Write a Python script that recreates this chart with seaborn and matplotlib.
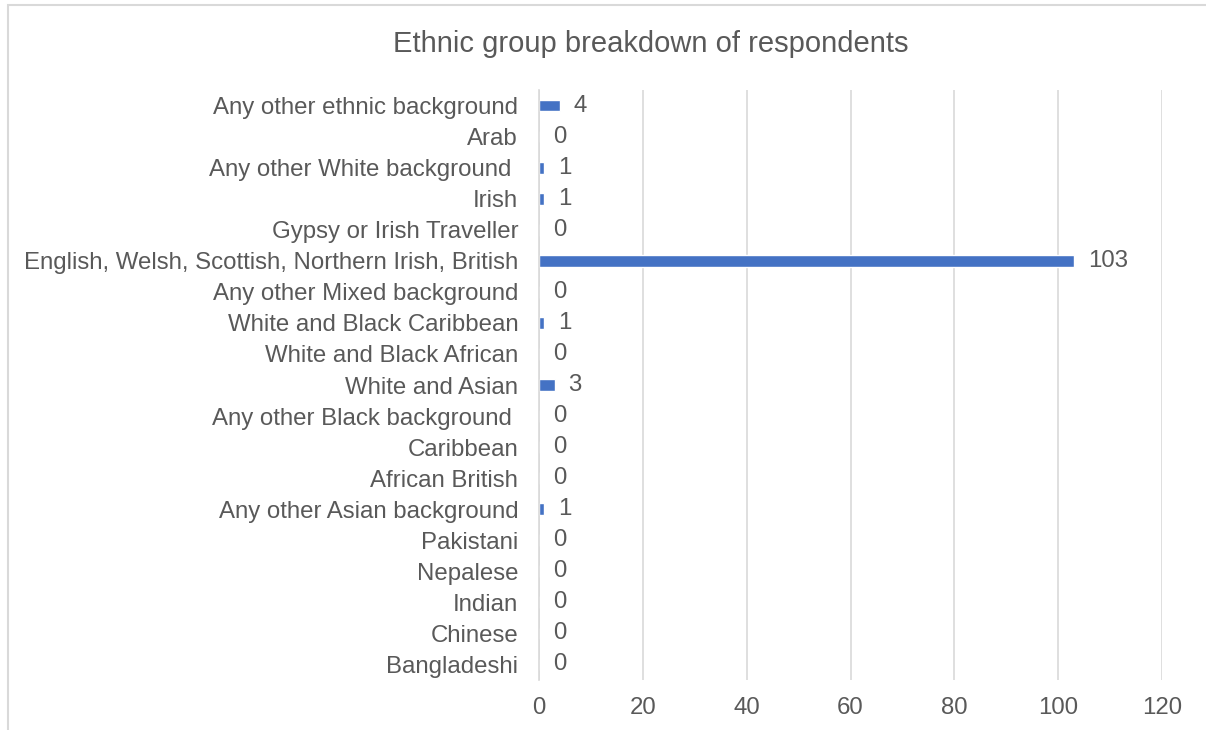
import numpy as np
import pandas as pd
import matplotlib
matplotlib.use('Agg')
import matplotlib.pyplot as plt
import seaborn as sns
from matplotlib.patches import Rectangle

groups = ['Any other ethnic background', 'Arab', 'Any other White background ', 'Irish',
          'Gypsy or Irish Traveller', 'English, Welsh, Scottish, Northern Irish, British',
          'Any other Mixed background', 'White and Black Caribbean', 'White and Black African',
          'White and Asian', 'Any other Black background ', 'Caribbean', 'African British',
          'Any other Asian background', 'Pakistani', 'Nepalese', 'Indian', 'Chinese', 'Bangladeshi']
counts = [4, 0, 1, 1, 0, 103, 0, 1, 0, 3, 0, 0, 0, 1, 0, 0, 0, 0, 0]
xticks = [0, 20, 40, 60, 80, 100, 120]

df = pd.DataFrame({'Group': groups, 'Count': counts})

sns.set_style('white')
plt.rcParams['font.family'] = ['Liberation Sans', 'DejaVu Sans']
grey = '#595959'

fig = plt.figure(figsize=(12.06, 7.3), dpi=100)
ax = fig.add_axes([539 / 1206, 1 - 680 / 730, (1162 - 539) / 1206, (680 - 90) / 730])

sns.barplot(data=df, x='Count', y='Group', orient='h', color='#4472C4',
            width=0.38, saturation=1, ax=ax)
ax.bar_label(ax.containers[0], padding=10, fontsize=17.3, color=grey)

ax.set_xlim(0, 120)
ax.set_xticks(xticks)
ax.set_ylim(len(groups) - 0.5, -0.5)
ax.xaxis.grid(True, color='#D9D9D9', linewidth=1.2)
ax.set_axisbelow(True)
for s in ['top', 'right', 'bottom']:
    ax.spines[s].set_visible(False)
ax.spines['left'].set_color('#D9D9D9')
ax.spines['left'].set_linewidth(1.2)
ax.tick_params(axis='both', length=0, labelsize=17.3, labelcolor=grey)
ax.tick_params(axis='x', pad=12)
ax.tick_params(axis='y', pad=15)
ax.set_xlabel('')
ax.set_ylabel('')

fig.text(651 / 1206, 1 - 44 / 730, 'Ethnic group breakdown of respondents', ha='center', va='center',
         fontsize=21, color=grey)

fig.patches.append(Rectangle((8 / 1206, -0.05), 1.1, 1 - 5 / 730 + 0.05, transform=fig.transFigure,
                             fill=False, edgecolor='#D9D9D9', linewidth=1.5))

fig.savefig('out.png', dpi=100)
